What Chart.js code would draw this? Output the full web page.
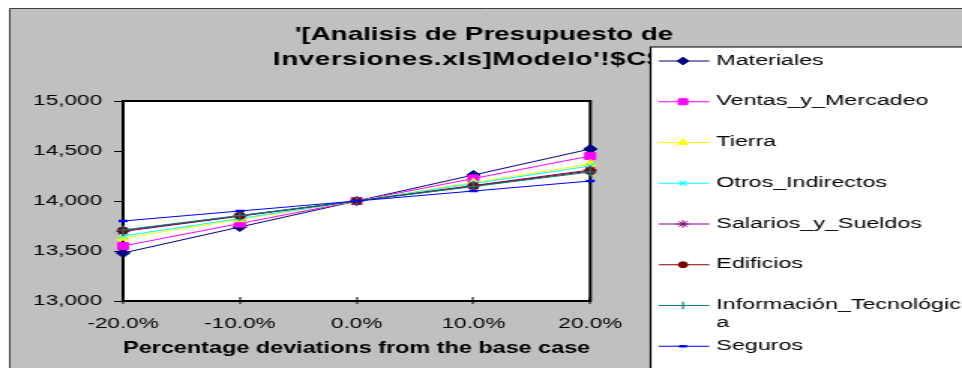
<!DOCTYPE html>
<html>
<head>
<meta charset="utf-8">
<script src="https://cdn.jsdelivr.net/npm/chart.js@4/dist/chart.umd.min.js"></script>
<style>
  html, body { margin: 0; padding: 0; background: #fff; overflow: hidden; }
  /* the original picture is stretched horizontally, so the chart is drawn narrow and widened */
  #wrap { width: 641px; height: 368px; transform: scaleX(1.50078); transform-origin: 0 0; }
</style>
</head>
<body>
<div id="wrap"><canvas id="grafico" width="641" height="368"></canvas></div>
<script>
// Datos
const etiquetas = ['-20.0%', '-10.0%', '0.0%', '10.0%', '20.0%'];
const materiales = [13480, 13740, 14000, 14260, 14520];
const ventasYMercadeo = [13550, 13775, 14000, 14225, 14450];
const tierra = [13630, 13815, 14000, 14185, 14370];
const otrosIndirectos = [13650, 13825, 14000, 14175, 14350];
const salariosYSueldos = [13695, 13848, 14000, 14155, 14310];
const edificios = [13705, 13853, 14000, 14150, 14300];
const informacionTecnologica = [13710, 13855, 14000, 14145, 14290];
const seguros = [13800, 13900, 14000, 14100, 14200];

const nombres = ['Materiales', 'Ventas_y_Mercadeo', 'Tierra', 'Otros_Indirectos',
  'Salarios_y_Sueldos', 'Edificios', 'Información_Tecnológica', 'Seguros'];
const series = [materiales, ventasYMercadeo, tierra, otrosIndirectos,
  salariosYSueldos, edificios, informacionTecnologica, seguros];

const ejeY = { min: 13000, max: 15000, paso: 500 };
const tituloLineas = ["'[Analisis de Presupuesto de", "Inversiones.xls]Modelo'!$C$10"];
const tituloEje = 'Percentage deviations from the base case';

// Estilos de cada serie (aparte de los datos)
const estilos = [
  { color: '#000080', punto: 'rectRot', radio: 4.5, borde: 1 },
  { color: '#ff00ff', punto: 'rect', radio: 5, borde: 1 },
  { color: '#ffff00', punto: 'triangle', radio: 4.5, borde: 1 },
  { color: '#00ffff', punto: 'crossRot', radio: 4, borde: 1.2 },
  { color: '#800080', punto: 'star', radio: 4.5, borde: 1 },
  { color: '#800000', punto: 'circle', radio: 3.5, borde: 1 },
  { color: '#008080', punto: 'cross', radio: 4.5, borde: 1.2 },
  { color: '#0000ff', punto: 'line', radio: 3, borde: 2.5 }
];

const FUENTE = '"Liberation Sans", Arial, sans-serif';
Chart.defaults.font.family = FUENTE;
Chart.defaults.color = '#000';

const datasets = series.map(function(valores, i) {
  const e = estilos[i];
  return {
    label: nombres[i],
    data: valores,
    borderColor: e.color,
    backgroundColor: e.color,
    borderWidth: 1,
    pointStyle: e.punto,
    pointRadius: e.radio,
    pointBackgroundColor: e.color,
    pointBorderColor: e.color,
    pointBorderWidth: e.borde,
    tension: 0,
    clip: false,
    order: series.length - i
  };
});

// Fondo gris, area del grafico blanca y marco negro
const fondo = {
  id: 'fondo',
  beforeDraw(chart) {
    const { ctx, chartArea: a, width, height } = chart;
    ctx.save();
    ctx.fillStyle = '#fff';
    ctx.fillRect(0, 0, width, height);
    ctx.fillStyle = '#c0c0c0';
    ctx.fillRect(6, 8, width, height);
    ctx.strokeStyle = '#404040';
    ctx.lineWidth = 1;
    ctx.beginPath();
    ctx.moveTo(6.5, height + 2);
    ctx.lineTo(6.5, 8.5);
    ctx.lineTo(width + 2, 8.5);
    ctx.stroke();
    ctx.fillStyle = '#fff';
    ctx.fillRect(a.left, a.top, a.right - a.left, a.bottom - a.top);
    ctx.restore();
  },
  beforeDatasetsDraw(chart) {
    const { ctx, chartArea: a, scales } = chart;
    ctx.save();
    ctx.strokeStyle = '#000';
    ctx.lineWidth = 2;
    ctx.strokeRect(a.left, a.top, a.right - a.left, a.bottom - a.top);
    // marcas del eje x, cruzando la linea
    ctx.lineWidth = 1;
    const x = scales.x;
    x.ticks.forEach(function(t, i) {
      const px = Math.round(x.getPixelForTick(i));
      ctx.beginPath();
      ctx.moveTo(px, a.bottom - 4);
      ctx.lineTo(px, a.bottom + 3);
      ctx.stroke();
    });
    ctx.restore();
  }
};

function partirTexto(ctx, texto, maxAncho) {
  const lineas = [];
  let actual = '';
  for (const ch of texto) {
    if (actual && ctx.measureText(actual + ch).width > maxAncho) {
      lineas.push(actual);
      actual = ch;
    } else {
      actual += ch;
    }
  }
  lineas.push(actual);
  return lineas;
}

// Titulo y leyenda (la leyenda tapa parte del titulo, como en el original)
const tituloYLeyenda = {
  id: 'tituloYLeyenda',
  afterDraw(chart) {
    const { ctx, width, height } = chart;
    ctx.save();
    ctx.fillStyle = '#000';
    ctx.font = 'bold 18.5px ' + FUENTE;
    ctx.textAlign = 'center';
    ctx.textBaseline = 'alphabetic';
    ctx.fillText(tituloLineas[0], 322.5, 40);
    ctx.letterSpacing = '0.4px';
    ctx.fillText(tituloLineas[1], 322.5, 65);
    ctx.letterSpacing = '0px';

    const lx = 433.5, ly = 47;
    ctx.fillStyle = '#fff';
    ctx.fillRect(lx, ly, width - lx + 5, height - ly + 5);
    ctx.strokeStyle = '#000';
    ctx.lineWidth = 1.2;
    ctx.beginPath();
    ctx.moveTo(lx, height + 2);
    ctx.lineTo(lx, ly);
    ctx.lineTo(width + 2, ly);
    ctx.stroke();

    ctx.font = '15.5px ' + FUENTE;
    ctx.textAlign = 'left';
    let base = 64.5;
    chart.data.datasets.forEach(function(ds) {
      const ym = base - 3.5;
      ctx.strokeStyle = ds.borderColor;
      ctx.lineWidth = 1;
      ctx.beginPath();
      ctx.moveTo(439, ym);
      ctx.lineTo(472.7, ym);
      ctx.stroke();

      ctx.fillStyle = ds.pointBackgroundColor;
      ctx.strokeStyle = ds.pointBorderColor;
      ctx.lineWidth = ds.pointBorderWidth;
      if (Chart.helpers && Chart.helpers.drawPoint) {
        Chart.helpers.drawPoint(ctx, {
          pointStyle: ds.pointStyle,
          radius: ds.pointRadius * 0.85,
          rotation: 0,
          borderWidth: ds.pointBorderWidth
        }, 455.1, ym);
      }

      ctx.fillStyle = '#000';
      const lineas = partirTexto(ctx, ds.label, 168);
      lineas.forEach(function(l, k) {
        ctx.fillText(l, 477.3, base + k * 17.5);
      });
      base += 40.75;
    });
    ctx.restore();
  }
};

new Chart(document.getElementById('grafico'), {
  type: 'line',
  data: { labels: etiquetas, datasets: datasets },
  options: {
    responsive: false,
    devicePixelRatio: 1,
    animation: false,
    layout: { padding: { top: 101, right: 247.7, bottom: 0, left: 0 } },
    plugins: {
      legend: { display: false },
      tooltip: { enabled: false },
      title: { display: false }
    },
    scales: {
      x: {
        type: 'category',
        offset: false,
        grid: { display: false },
        border: { display: false },
        ticks: { padding: 6, font: { size: 15 }, maxRotation: 0, autoSkip: false },
        title: {
          display: true,
          text: tituloEje,
          font: { size: 16.5, weight: 'bold' },
          padding: { top: 0, bottom: 10 }
        },
        afterFit(scale) { scale.height = 67; }
      },
      y: {
        min: ejeY.min,
        max: ejeY.max,
        grid: { drawOnChartArea: false, drawTicks: true, tickLength: 6, color: '#000', lineWidth: 1 },
        border: { display: false },
        ticks: {
          stepSize: ejeY.paso,
          padding: 8,
          font: { size: 15 },
          callback: function(v) { return v.toLocaleString('en-US'); }
        },
        afterFit(scale) { scale.width = 82; }
      }
    }
  },
  plugins: [fondo, tituloYLeyenda]
});
</script>
</body>
</html>
